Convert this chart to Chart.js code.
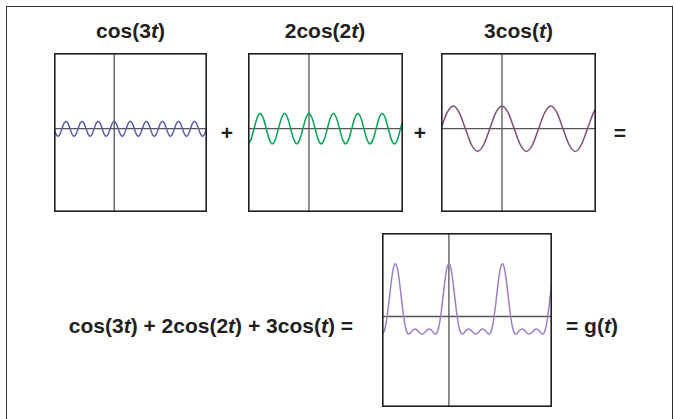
<!DOCTYPE html>
<html>
<head>
<meta charset="utf-8">
<script src="https://cdn.jsdelivr.net/npm/chart.js@4.4.1/dist/chart.umd.min.js"></script>
<style>
  html, body { margin: 0; padding: 0; background: #fff; }
  #page { position: relative; width: 674px; height: 419px; overflow: hidden;
          font-family: "Liberation Sans", Arial, Helvetica, sans-serif; font-weight: bold;
          font-size: 21px; color: #231f20; }
  #page canvas { position: absolute; }
  .txt { position: absolute; line-height: 22px; white-space: nowrap; }
  .frame { position: absolute; left: 6px; top: 6px; width: 667px; height: 460px;
           box-sizing: border-box; border: 1.5px solid #333; border-bottom: none; }
</style>
</head>
<body>
<div id="page">
  <div class="frame"></div>

  <div class="txt" style="left:54px;width:153px;text-align:center;top:20px">cos(3<i>t</i>)</div>
  <div class="txt" style="left:248px;width:154px;text-align:center;top:20px">2cos(2<i>t</i>)</div>
  <div class="txt" style="left:441px;width:155px;text-align:center;top:20px">3cos(<i>t</i>)</div>

  <div class="txt" style="left:217px;width:20px;text-align:center;top:122px">+</div>
  <div class="txt" style="left:410px;width:20px;text-align:center;top:122px">+</div>
  <div class="txt" style="left:610px;width:20px;text-align:center;top:122px">=</div>

  <div class="txt" style="left:0;width:353px;text-align:right;top:315px">cos(3<i>t</i>) + 2cos(2<i>t</i>) + 3cos(<i>t</i>) =</div>
  <div class="txt" style="left:566px;top:315px">= g(<i>t</i>)</div>

  <canvas id="c1" width="153" height="159" style="left:54px;top:53px"></canvas>
  <canvas id="c2" width="155" height="159" style="left:248px;top:53px"></canvas>
  <canvas id="c3" width="155" height="159" style="left:441px;top:53px"></canvas>
  <canvas id="c4" width="170" height="174" style="left:382px;top:233px"></canvas>
</div>

<script>
// t range shown in every panel
const xMin = -7.85, xMax = 12.1;

// cos(3t)
const tCos3 = [-7.85, -7.59, -7.33, -7.07, -6.81, -6.55, -6.28, -6.02,
               -5.76, -5.50, -5.24, -4.97, -4.71, -4.45, -4.19, -3.93,
               -3.67, -3.40, -3.14, -2.88, -2.62, -2.36, -2.09, -1.83,
               -1.57, -1.31, -1.05, -0.79, -0.52, -0.26, 0, 0.26,
               0.52, 0.79, 1.05, 1.31, 1.57, 1.83, 2.09, 2.36,
               2.62, 2.88, 3.14, 3.40, 3.67, 3.93, 4.19, 4.45,
               4.71, 4.97, 5.24, 5.50, 5.76, 6.02, 6.28, 6.55,
               6.81, 7.07, 7.33, 7.59, 7.85, 8.12, 8.38, 8.64,
               8.90, 9.16, 9.42, 9.69, 9.95, 10.21, 10.47, 10.73,
               11.00, 11.26, 11.52, 11.78, 12.04, 12.1];
const yCos3 = [0, -0.71, -1, -0.71, 0, 0.71, 1, 0.71,
               0, -0.71, -1, -0.71, 0, 0.71, 1, 0.71,
               0, -0.71, -1, -0.71, 0, 0.71, 1, 0.71,
               0, -0.71, -1, -0.71, 0, 0.71, 1, 0.71,
               0, -0.71, -1, -0.71, 0, 0.71, 1, 0.71,
               0, -0.71, -1, -0.71, 0, 0.71, 1, 0.71,
               0, -0.71, -1, -0.71, 0, 0.71, 1, 0.71,
               0, -0.71, -1, -0.71, 0, 0.71, 1, 0.71,
               0, -0.71, -1, -0.71, 0, 0.71, 1, 0.71,
               0, -0.71, -1, -0.71, 0, 0.17];

// 2cos(2t)
const tCos2 = [-7.85, -7.46, -7.07, -6.68, -6.28, -5.89, -5.50, -5.11,
               -4.71, -4.32, -3.93, -3.53, -3.14, -2.75, -2.36, -1.96,
               -1.57, -1.18, -0.79, -0.39, 0, 0.39, 0.79, 1.18,
               1.57, 1.96, 2.36, 2.75, 3.14, 3.53, 3.93, 4.32,
               4.71, 5.11, 5.50, 5.89, 6.28, 6.68, 7.07, 7.46,
               7.85, 8.25, 8.64, 9.03, 9.42, 9.82, 10.21, 10.60,
               11.00, 11.39, 11.78, 12.1];
const yCos2 = [-2, -1.41, 0, 1.41, 2, 1.41, 0, -1.41,
               -2, -1.41, 0, 1.41, 2, 1.41, 0, -1.41,
               -2, -1.41, 0, 1.41, 2, 1.41, 0, -1.41,
               -2, -1.41, 0, 1.41, 2, 1.41, 0, -1.41,
               -2, -1.41, 0, 1.41, 2, 1.41, 0, -1.41,
               -2, -1.41, 0, 1.41, 2, 1.41, 0, -1.41,
               -2, -1.41, 0, 1.19];

// 3cos(t)
const tCos1 = [-7.85, -7.07, -6.28, -5.50, -4.71, -3.93, -3.14, -2.36, -1.57, -0.79,
               0, 0.79, 1.57, 2.36, 3.14, 3.93, 4.71, 5.50, 6.28, 7.07,
               7.85, 8.64, 9.42, 10.21, 11.00, 11.78, 12.1];
const yCos1 = [0, 2.12, 3, 2.12, 0, -2.12, -3, -2.12, 0, 2.12,
               3, 2.12, 0, -2.12, -3, -2.12, 0, 2.12, 3, 2.12,
               0, -2.12, -3, -2.12, 0, 2.12, 2.68];

// g(t) = cos(3t) + 2cos(2t) + 3cos(t)
const tSum = [-7.85, -7.68, -7.48, -7.28, -7.08, -6.88, -6.68, -6.48, -6.28,
              -6.08, -5.88, -5.68, -5.48, -5.28, -5.08, -4.88, -4.71, -4.48, -4.28, -3.98,
              -3.68, -3.48, -3.28, -3.14, -3.0, -2.8, -2.6, -2.3, -2.0, -1.8, -1.57,
              -1.4, -1.2, -1.0, -0.8, -0.6, -0.4, -0.2, 0,
              0.2, 0.4, 0.6, 0.8, 1.0, 1.2, 1.4, 1.57, 1.8, 2.0, 2.3,
              2.6, 2.8, 3.0, 3.14, 3.28, 3.48, 3.68, 3.98, 4.28, 4.48, 4.71,
              4.88, 5.08, 5.28, 5.48, 5.68, 5.88, 6.08, 6.28,
              6.48, 6.68, 6.88, 7.08, 7.28, 7.48, 7.68, 7.85, 8.08, 8.28, 8.58,
              8.88, 9.08, 9.28, 9.42, 9.57, 9.77, 9.97, 10.27, 10.57, 10.77, 11.00,
              11.17, 11.37, 11.57, 11.77, 11.97, 12.1];
const ySum = [-2.00, -1.87, -1.28, -0.20, 1.29, 2.97, 4.52, 5.61, 6.00,
              5.61, 4.52, 2.97, 1.29, -0.20, -1.28, -1.87, -2.00, -1.84, -1.60, -1.41,
              -1.58, -1.79, -1.96, -2.00, -1.96, -1.79, -1.58, -1.41, -1.60, -1.84, -2.00,
              -1.87, -1.28, -0.20, 1.29, 2.97, 4.52, 5.61, 6.00,
              5.61, 4.52, 2.97, 1.29, -0.20, -1.28, -1.87, -2.00, -1.84, -1.60, -1.41,
              -1.58, -1.79, -1.96, -2.00, -1.96, -1.79, -1.58, -1.41, -1.60, -1.84, -2.00,
              -1.87, -1.28, -0.20, 1.29, 2.97, 4.52, 5.61, 6.00,
              5.61, 4.52, 2.97, 1.29, -0.20, -1.28, -1.87, -2.00, -1.84, -1.60, -1.41,
              -1.58, -1.79, -1.96, -2.00, -1.96, -1.79, -1.58, -1.41, -1.60, -1.84, -2.00,
              -1.87, -1.28, -0.20, 1.29, 2.97, 4.05];

// box around each plot + the two zero axes
const frameAxes = {
    id: 'frameAxes',
    beforeDatasetsDraw(chart) {
        const { ctx, chartArea: a, scales } = chart;
        const x0 = scales.x.getPixelForValue(0);
        const y0 = scales.y.getPixelForValue(0);
        ctx.save();
        ctx.strokeStyle = '#555';
        ctx.lineWidth = 1.3;
        ctx.beginPath();
        ctx.moveTo(x0, a.top); ctx.lineTo(x0, a.bottom);
        ctx.moveTo(a.left, y0); ctx.lineTo(a.right, y0);
        ctx.stroke();
        ctx.restore();
    },
    afterDatasetsDraw(chart) {
        const { ctx, chartArea: a } = chart;
        ctx.save();
        ctx.strokeStyle = '#231f20';
        ctx.lineWidth = 1.6;
        ctx.strokeRect(a.left + 0.8, a.top + 0.8, a.width - 1.6, a.height - 1.6);
        ctx.restore();
    }
};

function makePanel(id, ts, ys, color, yMin, yMax) {
    return new Chart(document.getElementById(id).getContext('2d'), {
        type: 'line',
        data: {
            datasets: [{
                data: ts.map((t, i) => ({ x: t, y: ys[i] })),
                borderColor: color,
                borderWidth: 1.5,
                pointRadius: 0,
                fill: false,
                cubicInterpolationMode: 'monotone'
            }]
        },
        plugins: [frameAxes],
        options: {
            responsive: false,
            animation: false,
            layout: { padding: 0 },
            plugins: { legend: { display: false }, tooltip: { enabled: false } },
            scales: {
                x: { type: 'linear', min: xMin, max: xMax, display: false },
                y: { min: yMin, max: yMax, display: false }
            }
        }
    });
}

makePanel('c1', tCos3, yCos3, '#5e5ea8', -11, 10);
makePanel('c2', tCos2, yCos2, '#00a651', -11, 10);
makePanel('c3', tCos1, yCos1, '#7e4e78', -11, 10);
makePanel('c4', tSum, ySum, '#9b7fc6', -10.3, 9.5);
</script>
</body>
</html>
